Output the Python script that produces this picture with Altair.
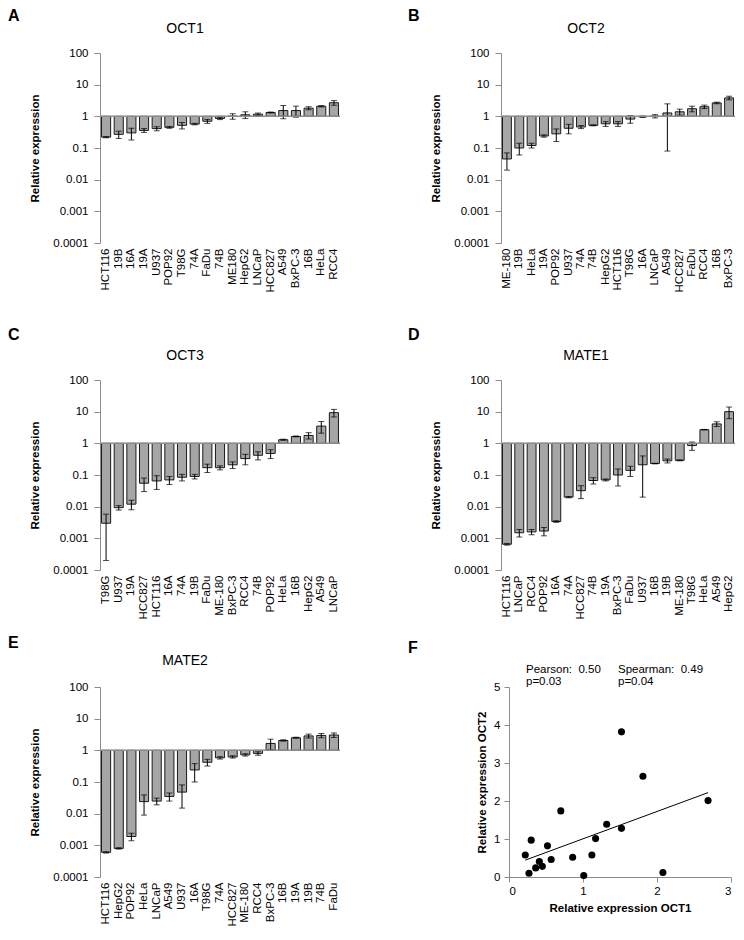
import altair as alt
import pandas as pd

FONT = "Liberation Sans"

# ---- data ----
oct1_cells = ["HCT116", "19B", "16A", "19A", "U937", "POP92", "T98G", "74A", "FaDu", "74B",
              "ME180", "HepG2", "LNCaP", "HCC827", "A549", "BxPC-3", "16B", "HeLa", "RCC4"]
oct1_vals = [0.22, 0.27, 0.30, 0.36, 0.41, 0.45, 0.52, 0.57, 0.70, 0.86,
             1.01, 1.12, 1.17, 1.32, 1.52, 1.52, 1.81, 2.08, 2.69]
oct1_errs = [0.01, 0.07, 0.12, 0.05, 0.06, 0.03, 0.12, 0.03, 0.10, 0.07,
             0.20, 0.27, 0.10, 0.05, 0.68, 0.58, 0.20, 0.10, 0.45]

oct2_cells = ["ME-180", "19B", "HeLa", "19A", "POP92", "U937", "74A", "74B", "HepG2", "HCT116",
              "T98G", "16A", "LNCaP", "A549", "HCC827", "FaDu", "RCC4", "16B", "BxPC-3"]
oct2_vals = [0.045, 0.10, 0.12, 0.24, 0.28, 0.42, 0.46, 0.52, 0.58, 0.58,
             0.82, 0.97, 1.01, 1.28, 1.39, 1.74, 2.01, 2.65, 3.82]
oct2_errs = [0.025, 0.04, 0.02, 0.02, 0.12, 0.14, 0.05, 0.02, 0.10, 0.10,
             0.22, 0.05, 0.12, 1.20, 0.30, 0.35, 0.25, 0.15, 0.50]

oct3_cells = ["T98G", "U937", "19A", "HCC827", "HCT116", "16A", "74A", "19B", "FaDu", "ME-180",
              "BxPC-3", "RCC4", "74B", "POP92", "HeLa", "16B", "HepG2", "A549", "LNCaP"]
oct3_vals = [0.003, 0.0093, 0.012, 0.055, 0.065, 0.07, 0.085, 0.09, 0.17, 0.17,
             0.21, 0.33, 0.42, 0.48, 1.3, 1.65, 1.77, 3.5, 9.3]
oct3_errs = [0.0028, 0.0015, 0.004, 0.025, 0.03, 0.02, 0.02, 0.015, 0.05, 0.025,
             0.05, 0.12, 0.12, 0.15, 0.05, 0.05, 0.4, 1.4, 2.5]

mate1_cells = ["HCT116", "LNCaP", "RCC4", "POP92", "16A", "74A", "HCC827", "74B", "19A", "BxPC-3",
               "FaDu", "U937", "16B", "19B", "ME-180", "T98G", "HeLa", "A549", "HepG2"]
mate1_vals = [0.00065, 0.0015, 0.0016, 0.0017, 0.0034, 0.02, 0.032, 0.067, 0.07, 0.10,
              0.14, 0.21, 0.23, 0.28, 0.29, 0.85, 2.7, 4.1, 10.0]
mate1_errs = [0.00004, 0.0004, 0.0003, 0.0005, 0.0002, 0.001, 0.014, 0.015, 0.005, 0.055,
              0.05, 0.19, 0.005, 0.04, 0.01, 0.25, 0.05, 0.7, 4.0]

mate2_cells = ["HCT116", "HepG2", "POP92", "HeLa", "LNCaP", "A549", "U937", "16A", "T98G", "74A",
               "HCC827", "ME-180", "RCC4", "BxPC-3", "16B", "19A", "19B", "74B", "FaDu"]
mate2_vals = [0.0006, 0.0008, 0.0019, 0.024, 0.025, 0.035, 0.048, 0.24, 0.42, 0.58,
              0.62, 0.72, 0.80, 1.65, 2.05, 2.5, 2.85, 2.95, 3.05]
mate2_errs = [0.00003, 0.00004, 0.0005, 0.015, 0.006, 0.01, 0.033, 0.14, 0.10, 0.05,
              0.05, 0.06, 0.10, 0.60, 0.10, 0.10, 0.40, 0.45, 0.50]

scatter_oct1 = [0.22, 0.27, 0.30, 0.36, 0.41, 0.45, 0.52, 0.57, 0.70, 0.86,
                1.01, 1.12, 1.17, 1.32, 1.52, 1.52, 1.81, 2.08, 2.69]
scatter_oct2 = [0.58, 0.10, 0.97, 0.24, 0.41, 0.28, 0.82, 0.46, 1.74, 0.52,
                0.04, 0.58, 1.01, 1.39, 1.28, 3.82, 2.65, 0.12, 2.01]

y_ticks = [0.0001, 0.001, 0.01, 0.1, 1, 10, 100]

AXIS_GREY = "#8c8c8c"
BAR_H = 190
NB = "\u00a0"


def text_layer(txt, x, y, size, weight="normal", align="left"):
    return alt.Chart(pd.DataFrame({"t": [txt]})).mark_text(
        font=FONT, fontSize=size, fontWeight=weight, align=align,
        baseline="alphabetic", color="black"
    ).encode(text="t:N", x=alt.value(x), y=alt.value(y))


def bar_panel(letter, gene, cells, vals, errs, width, letter_x, letter_y, title_y):
    df = pd.DataFrame({"cell": cells, "value": vals, "err": errs})
    df["lo"] = df["value"] - df["err"]
    df["hi"] = df["value"] + df["err"]
    yscale = alt.Scale(type="log", domain=[0.0001, 100], nice=False)
    yaxis = alt.Axis(values=y_ticks, format="~g", grid=False, domainColor=AXIS_GREY,
                     tickColor=AXIS_GREY, tickSize=6, labelPadding=6, labelFontSize=11.5,
                     labelColor="black", labelFont=FONT, title="Relative expression",
                     titleFontSize=11.5, titleFontWeight="bold", titleFont=FONT,
                     titlePadding=12, titleColor="black")
    xenc = alt.X("cell:N", sort=cells,
                 scale=alt.Scale(paddingInner=0.28, paddingOuter=0.12),
                 axis=alt.Axis(title=None, labelAngle=-90, domain=False, ticks=False,
                               labelFontSize=11.5, labelPadding=5, labelColor="black",
                               labelFont=FONT))
    base = alt.Chart(df)
    bars = base.mark_bar(fill="#a6a6a6", stroke="#1a1a1a", strokeWidth=1).encode(
        x=xenc, y=alt.Y("value:Q", scale=yscale, axis=yaxis), y2=alt.datum(1))
    rule = base.mark_rule(color="black", strokeWidth=1).encode(
        x=xenc, y=alt.Y("lo:Q", scale=yscale, axis=yaxis), y2="hi:Q")
    tlo = base.mark_tick(color="black", thickness=1, size=6, orient="horizontal").encode(
        x=xenc, y=alt.Y("lo:Q", scale=yscale, axis=yaxis))
    thi = base.mark_tick(color="black", thickness=1, size=6, orient="horizontal").encode(
        x=xenc, y=alt.Y("hi:Q", scale=yscale, axis=yaxis))
    one = alt.Chart(pd.DataFrame({"v": [1]})).mark_rule(color=AXIS_GREY, strokeWidth=1.5).encode(
        y=alt.Y("v:Q", scale=yscale, axis=yaxis))
    let = text_layer(letter, letter_x, letter_y, 16, "bold")
    ttl = text_layer(gene, 85, title_y, 14, "normal", "center")
    return alt.layer(bars, rule, tlo, thi, one, let, ttl).properties(width=width, height=BAR_H)


def scatter_panel():
    df = pd.DataFrame({"oct1": scatter_oct1, "oct2": scatter_oct2})
    xs = alt.Scale(domain=[0, 3], nice=False)
    ys = alt.Scale(domain=[0, 5], nice=False)
    xax = alt.Axis(values=[0, 1, 2, 3], format="d", grid=False, domainColor=AXIS_GREY,
                   tickColor=AXIS_GREY, tickSize=5, labelFontSize=11.5, labelColor="black",
                   labelFont=FONT, labelPadding=3, title="Relative expression OCT1",
                   titleFont=FONT, titleFontSize=11.5, titleFontWeight="bold",
                   titlePadding=6, titleColor="black")
    yax = alt.Axis(values=[0, 1, 2, 3, 4, 5], format="d", grid=False, domainColor=AXIS_GREY,
                   tickColor=AXIS_GREY, tickSize=5, labelFontSize=11.5, labelColor="black",
                   labelFont=FONT, labelPadding=4, title="Relative expression OCT2",
                   titleFont=FONT, titleFontSize=11.5, titleFontWeight="bold",
                   titlePadding=6, titleColor="black")
    pts = alt.Chart(df).mark_circle(size=50, color="black", opacity=1).encode(
        x=alt.X("oct1:Q", scale=xs, axis=xax), y=alt.Y("oct2:Q", scale=ys, axis=yax))
    reg = alt.Chart(df).transform_regression("oct1", "oct2").mark_line(
        color="black", strokeWidth=1).encode(
        x=alt.X("oct1:Q", scale=xs, axis=xax), y=alt.Y("oct2:Q", scale=ys, axis=yax))
    layers = [
        reg, pts,
        text_layer("F", -101, -34, 16, "bold"),
        text_layer("Pearson:" + NB + NB + "0.50", 17, -14, 11.5),
        text_layer("p=0.03", 17, -2, 11.5),
        text_layer("Spearman:" + NB + NB + "0.49", 109, -14, 11.5),
        text_layer(NB + "p=0.04", 109, -2, 11.5),
    ]
    return alt.layer(*layers).properties(width=222, height=190)


A = bar_panel("A", "OCT1", oct1_cells, oct1_vals, oct1_errs, 240, -92, -32, -20)
B = bar_panel("B", "OCT2", oct2_cells, oct2_vals, oct2_errs, 234, -93, -32, -20)
C = bar_panel("C", "OCT3", oct3_cells, oct3_vals, oct3_errs, 240, -92, -40, -20)
D = bar_panel("D", "MATE1", mate1_cells, mate1_vals, mate1_errs, 234, -93, -40, -20)
E = bar_panel("E", "MATE2", mate2_cells, mate2_vals, mate2_errs, 240, -92, -39, -22)
F = scatter_panel()

row1 = alt.hconcat(A, B, spacing=67)
row2 = alt.hconcat(C, D, spacing=67)
row3 = alt.hconcat(E, F, spacing=67)

chart = alt.vconcat(row1, alt.vconcat(row2, row3, spacing=15), spacing=34).properties(
    padding=0
).configure(font=FONT).configure_view(stroke=None)

chart.save("out.html", embed_options={"renderer": "svg", "actions": False})
